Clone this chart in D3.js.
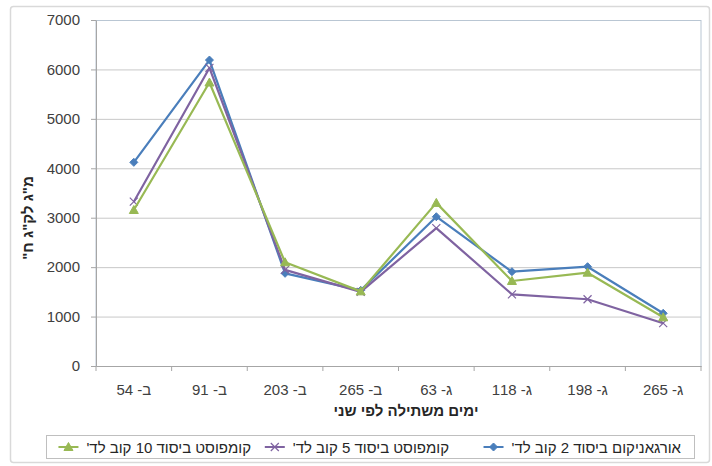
<!DOCTYPE html>
<html><head><meta charset="utf-8">
<script src="https://cdn.jsdelivr.net/npm/d3@7/dist/d3.min.js"></script>
<style>body{margin:0;background:#fff;font-family:"Liberation Sans",Arial,sans-serif}</style>
</head><body><svg id="c" width="712" height="466"></svg>
<script>
const categories = ["ב- 54","ב- 91","ב- 203","ב- 265","ג- 63","ג- 118","ג- 198","ג- 265"];
const seriesNames = ["אורגאניקום ביסוד 2 קוב לד'","קומפוסט ביסוד 5 קוב לד'","קומפוסט ביסוד 10 קוב לד'"];
const organicum2 = [4120, 6190, 1875, 1530, 3020, 1908, 2009, 1066];
const compost5   = [3324, 6030, 1945, 1500, 2790, 1450, 1350, 866];
const compost10  = [3156, 5735, 2098, 1510, 3300, 1720, 1888, 985];
const yTicks = [0,1000,2000,3000,4000,5000,6000,7000];
const xTitle = "ימים משתילה לפי שני";
const yTitle = 'מ"ג לק"ג ח"';

const colors = ["#4a7ebb","#7f63a1","#98b954"];
const markers = ["diamond","x","triangle"];
const data = [organicum2, compost5, compost10];
const FONT = "Liberation Sans, Arial, sans-serif";

const svg = d3.select("#c");
svg.append("rect").attr("x",10.5).attr("y",6.5).attr("width",699).attr("height",456)
  .attr("fill","#fff").attr("stroke","#d9d9d9").attr("stroke-width",1.5).attr("rx",3);

const L=96, R=701, T=20, B=366;
const x = d3.scaleBand().domain(categories).range([L,R]);
const y = d3.scaleLinear().domain([0,7000]).range([B,T]);

svg.append("g").selectAll("line").data(yTicks.filter(d=>d>0)).join("line")
  .attr("x1",L).attr("x2",R).attr("y1",d=>y(d)+0.5).attr("y2",d=>y(d)+0.5)
  .attr("stroke","#c8c8c8").attr("stroke-width",1);
svg.append("rect").attr("x",L).attr("y",T+0.5).attr("width",R-L).attr("height",B-T)
  .attr("fill","none").attr("stroke","#b9c6d3").attr("stroke-width",1);

const ya = svg.append("g").attr("transform",`translate(${L},0)`)
  .call(d3.axisLeft(y).tickValues(yTicks).tickFormat(d3.format("d")).tickSize(5).tickSizeOuter(0).tickPadding(11));
ya.select(".domain").attr("stroke","#a6a6a6");
ya.selectAll(".tick line").attr("stroke","#a6a6a6");
ya.selectAll(".tick text").attr("font-size",15).attr("fill","#404040").attr("font-family",FONT);

const xa = svg.append("g").attr("transform",`translate(0,${B})`)
  .call(d3.axisBottom(x).tickSize(0).tickPadding(18));
xa.select(".domain").attr("stroke","#a6a6a6");
xa.selectAll(".tick text").attr("font-size",15).attr("fill","#404040")
  .attr("direction","rtl").attr("font-family",FONT);
svg.append("g").selectAll("line").data(d3.range(categories.length+1)).join("line")
  .attr("x1",i=>L+i*x.step()).attr("x2",i=>L+i*x.step())
  .attr("y1",B).attr("y2",B+5).attr("stroke","#a6a6a6");

svg.append("text").attr("x",406).attr("y",416).attr("text-anchor","middle")
  .attr("direction","rtl").attr("font-weight","bold").attr("font-size",15).attr("fill","#262626").text(xTitle);
svg.append("text").attr("transform","translate(33,218) rotate(-90)").attr("text-anchor","middle")
  .attr("direction","rtl").attr("font-weight","bold").attr("font-size",15).attr("fill","#262626").text(yTitle);

function drawMarker(g, type, cx, cy, color){
  if(type==="diamond"){
    g.append("path").attr("d",`M${cx},${cy-4}L${cx+4},${cy}L${cx},${cy+4}L${cx-4},${cy}Z`).attr("fill",color).attr("stroke",color);
  } else if(type==="x"){
    g.append("path").attr("d",`M${cx-4},${cy-4}L${cx+4},${cy+4}M${cx-4},${cy+4}L${cx+4},${cy-4}`).attr("stroke",color).attr("stroke-width",1.2).attr("fill","none");
  } else {
    g.append("path").attr("d",`M${cx},${cy-4.5}L${cx+4.5},${cy+3.5}L${cx-4.5},${cy+3.5}Z`).attr("fill",color).attr("stroke",color);
  }
}

const line = d3.line().x((d,i)=>x(categories[i])+x.bandwidth()/2).y(d=>y(d));
data.forEach((vals,s)=>{
  const g = svg.append("g");
  g.append("path").datum(vals).attr("d",line).attr("fill","none").attr("stroke",colors[s]).attr("stroke-width",2.2).attr("stroke-linejoin","round");
  vals.forEach((v,i)=>drawMarker(g, markers[s], x(categories[i])+x.bandwidth()/2, y(v), colors[s]));
});

svg.append("rect").attr("x",46.5).attr("y",435.5).attr("width",648).attr("height",23)
  .attr("fill","#fff").attr("stroke","#bfbfbf");
const legendTextRight = [681, 449, 251];
seriesNames.forEach((n,s)=>{
  const g = svg.append("g");
  const t = g.append("text").attr("x",legendTextRight[s]).attr("y",452.5).attr("text-anchor","start")
    .attr("direction","rtl").attr("font-size",15).attr("fill","#262626").attr("font-family",FONT).text(n);
  const w = t.node().getComputedTextLength();
  const lx = legendTextRight[s]-w-8;
  g.append("line").attr("x1",lx-20).attr("x2",lx).attr("y1",447).attr("y2",447).attr("stroke",colors[s]).attr("stroke-width",2);
  drawMarker(g, markers[s], lx-10, 447, colors[s]);
});
</script></body></html>
